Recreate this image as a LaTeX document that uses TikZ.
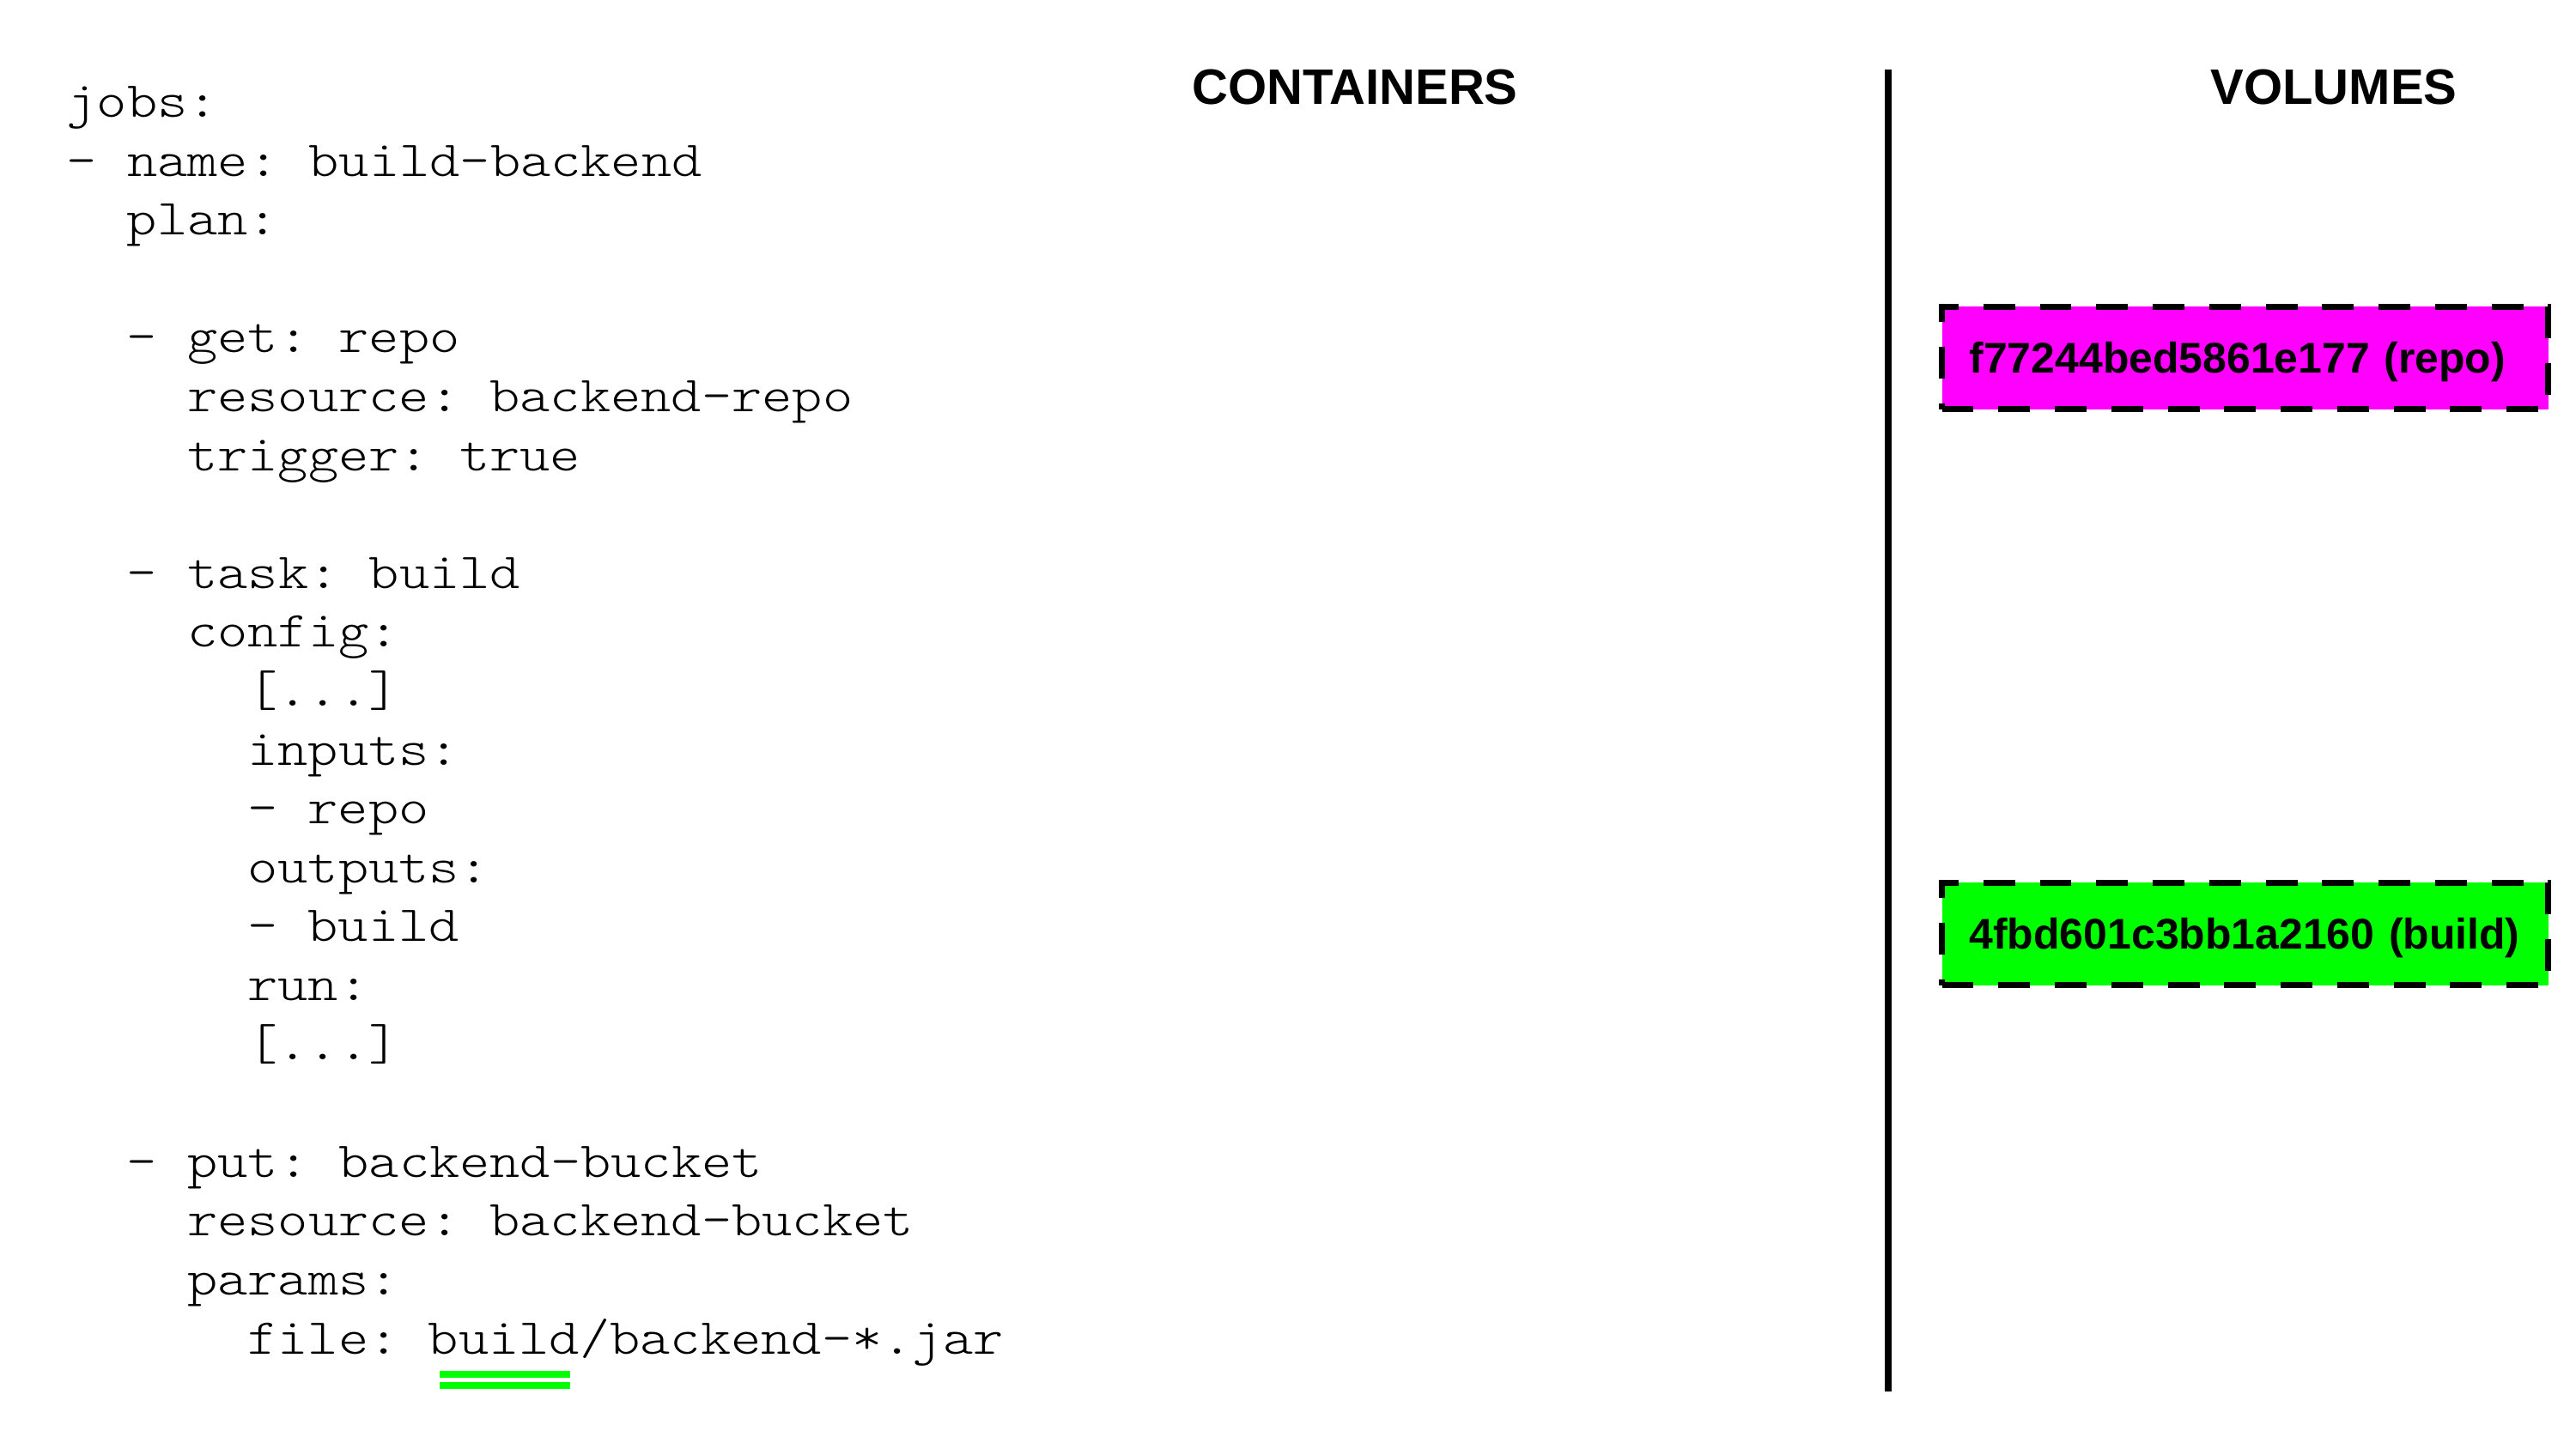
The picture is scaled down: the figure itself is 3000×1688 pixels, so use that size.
\documentclass[tikz,border=0pt]{standalone}
\usepackage{fontspec}
\usepackage{tikz}
\newfontfamily\codefont{lmmonolt10-regular}[Extension=.otf, FakeStretch=1.143]
\newfontfamily\headfont{Liberation Sans}
\newcommand{\elide}{[...]}
\definecolor{repocol}{HTML}{FF00FF}
\definecolor{buildcol}{HTML}{00FF00}

\begin{document}
\begin{tikzpicture}[x=0.01cm, y=-0.01cm,
  code/.style={inner sep=0pt, anchor=base west, font=\codefont\fontsize{16.7}{19.45}\selectfont\frenchspacing},
  head/.style={inner sep=0pt, anchor=base, font=\headfont\bfseries\fontsize{16.5}{19}\selectfont},
  vol/.style={draw=black, line width=2pt, dash pattern=on 10.5pt off 8.2pt, anchor=west,
    minimum width=7.06cm, minimum height=1.19cm, inner xsep=0.32cm, inner ysep=0pt,
    text width=6.42cm, text height=10.2pt, text depth=0pt, align=left,
    font=\headfont\bfseries\fontsize{14.2}{16}\selectfont},
  divider/.style={line width=2.5pt},
  hilite/.style={draw=buildcol, line width=2.2pt}]

\useasboundingbox (0,0) rectangle (3000,1688);

% pipeline yaml
\foreach \row/\ind/\txt in {0/0/jobs:, 1/0/- name: build-backend, 2/2/plan:,
    4/2/- get: repo, 5/4/resource: backend-repo, 6/4/trigger: true,
    8/2/- task: build, 9/4/config:, 10/6/\elide, 11/6/inputs:, 12/6/- repo,
    13/6/outputs:, 14/6/- build, 15/6/run:, 16/6/\elide,
    18/2/- put: backend-bucket, 19/4/resource: backend-bucket, 20/4/params:}
  \node[code] (line\row) at (77+35.1*\ind, 136.5+68.6*\row) {\txt};

\node[code] (filekey) at (77+35.1*6, 136.5+68.6*21) {file:};
\node[code] (filepath) at (77+35.1*12, 136.5+68.6*21) {build/backend-*.jar};
\coordinate (ulstart) at ([shift={(14,24)}]filepath.base west);
\coordinate (ulend) at ([shift={(166,24)}]filepath.base west);
\draw[hilite] (ulstart) -- (ulend);
\draw[hilite] ([shift={(0,13)}]ulstart) -- ([shift={(0,13)}]ulend);

% columns
\node[head] (containers) at (1578,121.7) {CONTAINERS};
\node[head] (volumes) at (2718,121.7) {VOLUMES};
\coordinate (divtop) at (2199,81);
\coordinate (divbot) at (2199,1621);
\draw[divider] (divtop) -- (divbot);

\node[vol, fill=repocol] (repovol) at (2258,417) {f77244bed5861e177 (repo)};
\node[vol, fill=buildcol] (buildvol) at (2258,1088) {4fbd601c3bb1a2160 (build)};

\end{tikzpicture}
\end{document}
